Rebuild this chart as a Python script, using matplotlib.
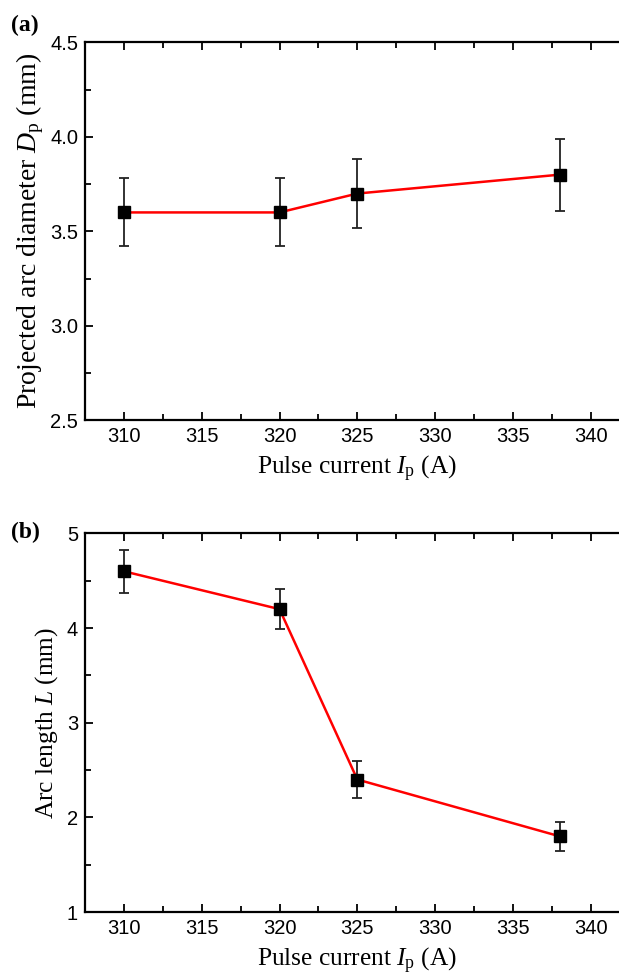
import matplotlib
matplotlib.use("Agg")
import matplotlib.pyplot as plt
from matplotlib.ticker import MultipleLocator

current = [310, 320, 325, 338]
diameter = [3.6, 3.6, 3.7, 3.8]
diameter_err = [0.18, 0.18, 0.185, 0.19]
arc_length = [4.6, 4.2, 2.4, 1.8]
arc_length_err = [0.23, 0.21, 0.2, 0.15]

plt.rcParams.update({"font.family": "Liberation Sans", "mathtext.fontset": "custom",
                     "mathtext.rm": "Liberation Serif", "mathtext.it": "Liberation Serif:italic"})
SERIF = "Liberation Serif"

fig = plt.figure(figsize=(6.19, 9.77), dpi=100)
ax_a = fig.add_axes([0.1373, 0.570, 0.880, 0.3865])
ax_b = fig.add_axes([0.1373, 0.0665, 0.880, 0.3875])


def panel(ax, y, yerr, ylim, major, minor, ylabel, ysize, ypad, fmt):
    ax.errorbar(current, y, yerr=yerr, color="red", lw=1.8, marker="s", ms=8.5,
                mfc="black", mec="black", ecolor="#222222", elinewidth=1.3,
                capsize=3.5, capthick=1.3, zorder=3)
    ax.set_xlim(307.5, 342.5)
    ax.set_ylim(*ylim)
    ax.xaxis.set_major_locator(MultipleLocator(5))
    ax.xaxis.set_minor_locator(MultipleLocator(2.5))
    ax.yaxis.set_major_locator(MultipleLocator(major))
    ax.yaxis.set_minor_locator(MultipleLocator(minor))
    ax.yaxis.set_major_formatter(fmt)
    ax.tick_params(which="both", direction="in", top=True, right=False, labelsize=14.5,
                   width=1.3, pad=5)
    ax.tick_params(which="major", length=6)
    ax.tick_params(which="minor", length=4)
    for s in ax.spines.values():
        s.set_linewidth(1.6)
    ax.spines["right"].set_visible(False)
    ax.set_xlabel(r"Pulse current $I_\mathrm{p}$ (A)", fontsize=18.3, family=SERIF, labelpad=6)
    ax.set_ylabel(ylabel, fontsize=ysize, family=SERIF, labelpad=ypad)


panel(ax_a, diameter, diameter_err, (2.5, 4.5), 0.5, 0.25,
      r"Projected arc diameter $D_\mathrm{p}$ (mm)", 20, 3, "{x:.1f}")
panel(ax_b, arc_length, arc_length_err, (1, 5), 1, 0.5,
      r"Arc length $L$ (mm)", 18.3, 5, "{x:.0f}")

fig.text(0.018, 0.9744, "(a)", fontsize=17, family=SERIF, weight="bold", va="center")
fig.text(0.018, 0.4555, "(b)", fontsize=17, family=SERIF, weight="bold", va="center")

fig.savefig("out.png", dpi=100)
